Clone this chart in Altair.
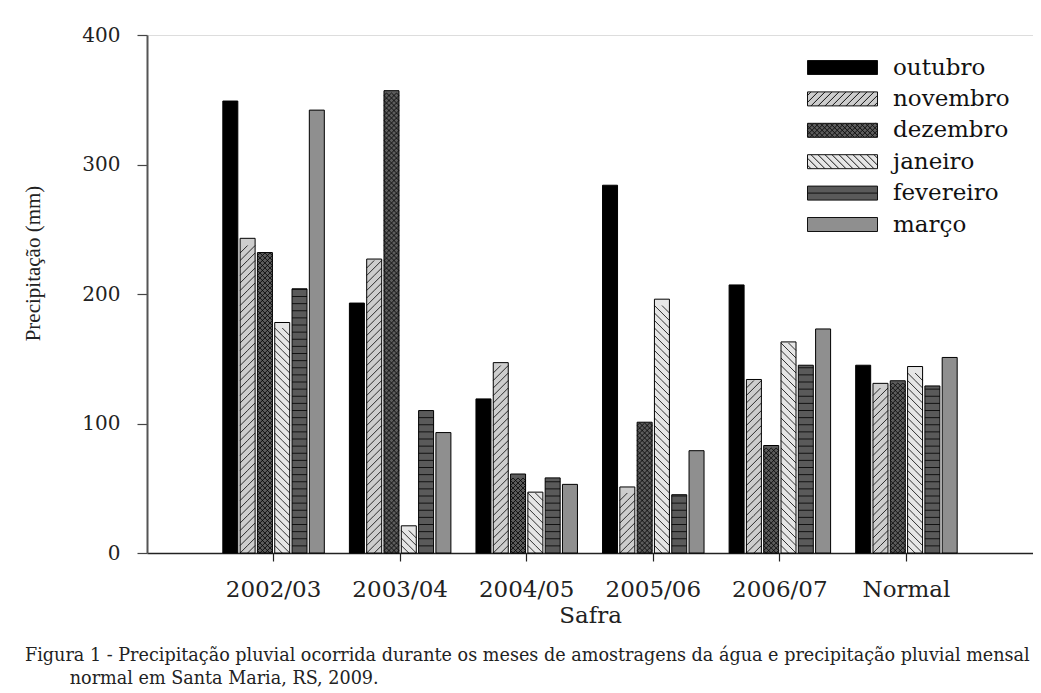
import math
import altair as alt
import pandas as pd

# ---------------- data ----------------
safras = ["2002/03", "2003/04", "2004/05", "2005/06", "2006/07", "Normal"]
meses = ["outubro", "novembro", "dezembro", "janeiro", "fevereiro", "março"]
outubro = [349, 193, 119, 284, 207, 145]
novembro = [243, 227, 147, 51, 134, 131]
dezembro = [232, 357, 61, 101, 83, 133]
janeiro = [178, 21, 47, 196, 163, 144]
fevereiro = [204, 110, 58, 45, 145, 129]
marco = [342, 93, 53, 79, 173, 151]
y_ticks = [0, 100, 200, 300, 400]

caption_1 = ("Figura 1 - Precipitação pluvial ocorrida durante os meses de "
             "amostragens da água e precipitação pluvial mensal")
caption_2 = "\u200b" + "\u00a0" * 8 + "normal em Santa Maria, RS, 2009."

series = [outubro, novembro, dezembro, janeiro, fevereiro, marco]
rows = []
for mes, vals in zip(meses, series):
    for s, v in zip(safras, vals):
        rows.append({"Safra": s, "Mes": mes, "Precip": v})
df = pd.DataFrame(rows)

# ---------------- styling ----------------
fills = ["#000000", "#cdcdcd", "#5c5c5c", "#e6e6e6", "#5a5a5a", "#8f8f8f"]
W, H = 886, 518
PX_PER_MM = H / 400.0


def diag(x0, x1, y0, y1, pitch, direction):
    segs = []
    phase = pitch / 2.0
    if direction == 1:
        cmin, cmax = x0 + y0, x1 + y1
    else:
        cmin, cmax = y0 - x1, y1 - x0
    k = math.floor((cmin - phase) / pitch)
    c = phase + k * pitch
    while c <= cmax + 1e-9:
        if direction == 1:
            xa, xb = max(x0, c - y1), min(x1, c - y0)
            if xb - xa > 1e-6:
                segs.append(f"M{xa:.3f},{c - xa:.3f}L{xb:.3f},{c - xb:.3f}")
        else:
            xa, xb = max(x0, y0 - c), min(x1, y1 - c)
            if xb - xa > 1e-6:
                segs.append(f"M{xa:.3f},{xa + c:.3f}L{xb:.3f},{xb + c:.3f}")
        c += pitch
    return "".join(segs)


# tiles for the bars: 15 px wide (units of 7.5 px)
R_BAR = 7.5
tile_nov = diag(-1, 1, -0.5, 0.5, 1.0, 1)
tile_jan = diag(-1, 1, -0.5, 0.5, 1.0, -1)
cross_p = 2.0 / 3.0
tile_dez = diag(-1, 1, -cross_p / 2, cross_p / 2, cross_p, 1) + diag(-1, 1, -cross_p / 2, cross_p / 2, cross_p, -1)
tile_fev = "M-1,0L1,0"

# legend symbols: 70 x 14 px (units of 7 px)
rect = "M-1,-1L9,-1L9,1L-1,1Z"
leg_paths = [
    rect,
    rect + diag(-1, 9, -1, 1, 1.0, 1),
    rect + diag(-1, 9, -1, 1, 0.72, 1) + diag(-1, 9, -1, 1, 0.72, -1),
    rect + diag(-1, 9, -1, 1, 1.0, -1),
    rect + "M-1,0L9,0",
    rect,
]
leg_strokes = ["#111111"] * 6

serif = "DejaVu Serif"

x_enc = alt.X(
    "Safra:N", sort=safras,
    scale=alt.Scale(domain=safras, paddingInner=0, paddingOuter=0.5),
    axis=alt.Axis(title="Safra", labelAngle=0, tickSize=8, labelPadding=17,
                  labelFont=serif, labelFontSize=23, labelColor="#222",
                  titleFont=serif, titleFontSize=23, titleFontWeight="normal",
                  titleColor="#222", titleBaseline="alphabetic", titleY=69,
                  domainColor="#222", domainWidth=1.5, tickColor="#222",
                  tickWidth=1.2),
)
xo_enc = alt.XOffset(
    "Mes:N", sort=meses,
    scale=alt.Scale(domain=meses, paddingInner=0.133, paddingOuter=0.7245),
)
y_axis = alt.Axis(values=y_ticks, title="Precipitação (mm)", grid=False,
                  tickSize=10, labelPadding=17, labelFont=serif,
                  labelFontSize=20, labelColor="#222",
                  titleFont="Liberation Serif", titleFontSize=21,
                  titleFontWeight="normal", titleColor="#222",
                  titleBaseline="alphabetic", titleAngle=270, titleAlign="center",
                  titleX=-108, titleY=228,
                  domainColor="#555", domainWidth=2, tickColor="#444",
                  tickWidth=1.2)
y_scale = alt.Scale(domain=[0, 400], nice=False, zero=True)

legend = alt.Legend(
    title=None, orient="none", legendX=656, legendY=21,
    symbolSize=196, symbolStrokeColor="black",
    symbolStrokeWidth=1, symbolOpacity=1,
    labelFont=serif, labelFontSize=23, labelColor="#111",
    labelOffset=67, labelLimit=300, rowPadding=7.4,
)
fill_enc = alt.Fill("Mes:N", sort=meses,
                    scale=alt.Scale(domain=meses, range=fills), legend=legend)

bars = alt.Chart(df).mark_bar(stroke="black", strokeWidth=1).encode(
    x=x_enc,
    xOffset=xo_enc,
    y=alt.Y("Precip:Q", scale=y_scale, axis=y_axis),
    fill=fill_enc,
)

# invisible layer that only supplies the patterned legend symbols
legend_layer = alt.Chart(df).mark_point(filled=True, opacity=0, size=1).encode(
    x=x_enc,
    xOffset=xo_enc,
    y=alt.Y("Precip:Q", scale=y_scale, axis=y_axis),
    fill=fill_enc,
    shape=alt.Shape("Mes:N", sort=meses,
                    scale=alt.Scale(domain=meses, range=leg_paths), legend=legend),
    stroke=alt.Stroke("Mes:N", sort=meses,
                      scale=alt.Scale(domain=meses, range=leg_strokes), legend=legend),
)


def hatch(mes, tile, tile_h_units, offset_half=True):
    d = tile_h_units * R_BAR / PX_PER_MM
    if offset_half:
        seq = f"sequence(0, floor(datum.Precip / {d:.5f}))"
        pos = f"(datum.k + 0.5) * {d:.5f}"
    else:
        seq = f"sequence(1, floor(datum.Precip / {d:.5f}) + 1)"
        pos = f"datum.k * {d:.5f}"
    return (
        alt.Chart(df)
        .transform_filter(alt.datum.Mes == mes)
        .transform_calculate(k=seq)
        .transform_flatten(["k"])
        .transform_calculate(ty=pos)
        .mark_point(shape=tile, size=(2 * R_BAR) ** 2, filled=False,
                    color="black", strokeWidth=0.8, opacity=1)
        .encode(
            x=x_enc,
            xOffset=xo_enc,
            y=alt.Y("ty:Q", scale=y_scale, axis=y_axis),
        )
    )


layers = [
    bars,
    hatch("novembro", tile_nov, 1.0),
    hatch("dezembro", tile_dez, cross_p),
    hatch("janeiro", tile_jan, 1.0),
    hatch("fevereiro", tile_fev, 0.95, offset_half=False),
    legend_layer,
]

chart = alt.layer(*layers).properties(
    width=W, height=H,
    autosize=alt.AutoSizeParams(type="none"),
    padding={"left": 139, "top": 27, "right": 0, "bottom": 136},
    title=alt.TitleParams(
        text=[caption_1, caption_2], orient="bottom", anchor="start",
        frame="group", dx=-122, offset=20, font=serif, fontSize=17.6,
        fontWeight="normal", color="#222", lineHeight=23,
    ),
).configure_view(stroke="#222", strokeWidth=1.5).configure(background="white")

chart.save("out.html", embed_options={"renderer": "svg", "actions": False})
